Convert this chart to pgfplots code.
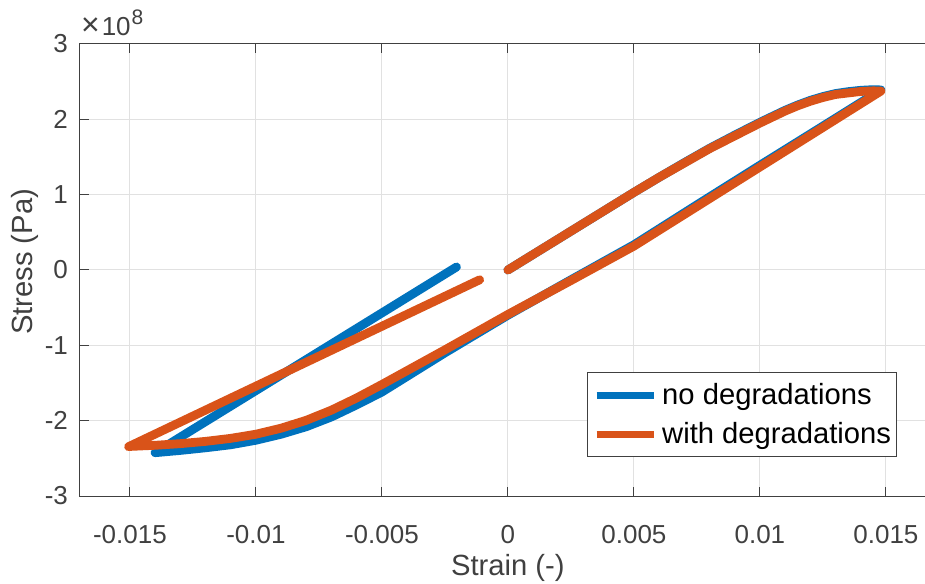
\documentclass[border=0pt]{standalone}
\usepackage{fontspec}
\setmainfont{Liberation Sans}
\usepackage{pgfplots}
\pgfplotsset{compat=1.18}
\definecolor{mblue}{RGB}{0,114,189}
\definecolor{morange}{RGB}{217,83,25}
\definecolor{axgray}{RGB}{64,64,64}
\definecolor{gridgray}{RGB}{225,225,225}

\begin{document}
\begin{tikzpicture}
\begin{axis}[
    at={(0,0)}, anchor=south west,
    scale only axis, width=428.4pt, height=226pt,
    xmin=-0.017, xmax=0.017, ymin=-3e8, ymax=3e8,
    xtick={-0.015,-0.01,-0.005,0,0.005,0.01,0.015},
    xticklabels={-0.015,-0.01,-0.005,0,0.005,0.01,0.015},
    ytick={-3e8,-2e8,-1e8,0,1e8,2e8,3e8},
    yticklabels={-3,-2,-1,0,1,2,3},
    scaled ticks=false,
    tick label style={font=\fontsize{13}{15}\selectfont, text=axgray},
    xticklabel style={anchor=base, inner sep=0pt, yshift=-23.5pt},
    yticklabel style={anchor=east, inner sep=0pt, xshift=-5.6pt},
    xlabel={Strain (-)}, ylabel={Stress (Pa)},
    label style={font=\fontsize{14.6}{17}\selectfont, text=axgray},
    xlabel style={at={(axis description cs:0.5,-0.1748)}, anchor=base},
    ylabel style={at={(axis description cs:-0.0642,0.518)}, anchor=center},
    grid=major, major grid style={gridgray, line width=0.5pt},
    axis line style={axgray, line width=0.5pt},
    every tick/.style={axgray, line width=0.5pt},
    major tick length=4.5pt, tick align=inside,
    legend style={at={(axis description cs:0.9545,0.0856)}, anchor=south east,
      draw=axgray, line width=0.5pt, fill=white,
      font=\fontsize{14.6}{17}\selectfont,
      inner xsep=2.85pt, inner ysep=5.2pt, row sep=7.4pt,
      nodes={inner sep=0pt, text height=10.6pt, text depth=1.5pt}},
    legend cell align=left,
    legend image code/.code={\draw[#1, line width=3.3pt, line cap=butt] (0pt,0pt) -- (28.8pt,0pt);},
    /tikz/every odd column/.append style={column sep=2.3pt},
]
% no degradations: loading, unloading, reloading
\addplot[mblue, line width=4.4pt, line join=round, line cap=round] coordinates {
(0,0) (0.005,1.03e8) (0.006,1.23e8) (0.007,1.425e8) (0.008,1.615e8)
(0.009,1.79e8) (0.010,1.96e8) (0.011,2.12e8) (0.0115,2.19e8) (0.012,2.252e8)
(0.0125,2.302e8) (0.013,2.342e8) (0.0135,2.367e8) (0.014,2.385e8)
(0.0145,2.394e8) (0.0148,2.39e8)
(0.0125,1.91e8) (0.0100,1.39e8) (0.0075,0.865e8) (0.0050,0.335e8)
(0.0025,-0.13e8) (0.0000,-0.60e8) (-0.0025,-1.10e8) (-0.0050,-1.62e8)
(-0.0060,-1.79e8) (-0.0070,-1.95e8) (-0.0080,-2.08e8) (-0.0090,-2.18e8)
(-0.0100,-2.26e8) (-0.0110,-2.32e8) (-0.0120,-2.36e8) (-0.0130,-2.395e8)
(-0.0140,-2.425e8)
(-0.00204,0.04e8)
};
\addlegendentry{no degradations}
% with degradations
\addplot[morange, line width=4.4pt, line join=round, line cap=round] coordinates {
(0,0) (0.005,1.03e8) (0.006,1.23e8) (0.007,1.42e8) (0.008,1.61e8)
(0.009,1.78e8) (0.010,1.95e8) (0.011,2.11e8) (0.0115,2.18e8) (0.012,2.24e8)
(0.0125,2.29e8) (0.013,2.33e8) (0.0135,2.35e8) (0.014,2.37e8)
(0.0145,2.378e8) (0.0148,2.375e8)
(0.0125,1.892e8) (0.0100,1.367e8) (0.0075,0.842e8) (0.0050,0.317e8)
(0.0025,-0.14e8) (0.0000,-0.59e8) (-0.0025,-1.06e8) (-0.0050,-1.52e8)
(-0.0060,-1.698e8) (-0.0070,-1.86e8) (-0.0080,-1.995e8) (-0.0090,-2.10e8)
(-0.0100,-2.18e8) (-0.0110,-2.235e8) (-0.0120,-2.275e8) (-0.0130,-2.305e8)
(-0.0140,-2.327e8) (-0.0150,-2.342e8) (-0.01505,-2.345e8)
(-0.00112,-0.13e8)
};
\addlegendentry{with degradations}
\end{axis}
\node[anchor=base west, inner sep=0pt, text=axgray]
  at (0.6pt,230pt) {{\fontsize{16}{16}\selectfont ×}\kern1pt{\fontsize{13}{15}\selectfont 10}\kern0.5pt\raisebox{5.5pt}{\fontsize{10.5}{12}\selectfont 8}};
\pgfresetboundingbox
\useasboundingbox (-39.75pt,-43.5pt) rectangle (422.75pt,248pt);
\end{tikzpicture}
\end{document}
